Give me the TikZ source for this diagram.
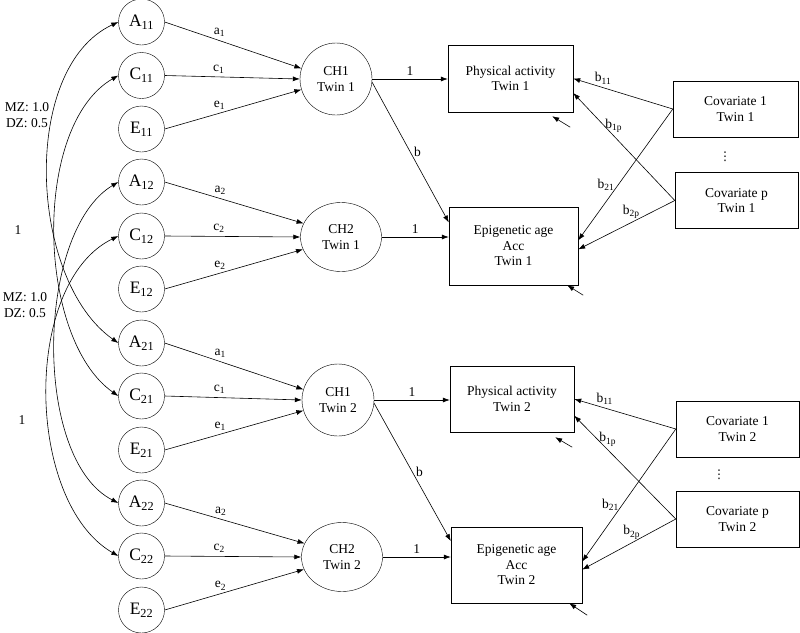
\documentclass[tikz,border=0pt]{standalone}
\usepackage{amsmath}
\usepackage{amssymb}
\usepackage{fontspec}
\setmainfont{Liberation Serif}
\newfontfamily\dotsfont{DejaVu Sans}
\usetikzlibrary{arrows.meta,shapes.geometric}

\begin{document}
\begin{tikzpicture}[x=1pt,y=1pt,
        every node/.style={font=\fontsize{13.5}{15.5}\selectfont},
        lat/.style={draw,circle,minimum size=46pt,inner sep=0pt,font=\fontsize{17.5}{20}\selectfont},
        chone/.style={draw,circle,minimum size=72pt,inner sep=0pt,align=center},
        chtwo/.style={draw,ellipse,minimum width=81pt,minimum height=69pt,inner sep=0pt,align=center},
        obs/.style={draw,rectangle,inner sep=0pt,align=center},
        arr/.style={-{Latex[length=7pt,width=5pt]},line width=0.6pt},
        dbl/.style={{Latex[length=7pt,width=5pt]}-{Latex[length=7pt,width=5pt]},line width=0.6pt}]
    \useasboundingbox (0,0) rectangle (800,-632);
    % ACE factors
    \node [lat] (a11) at (141.5,-22) {A\textsubscript{11}};
    \node [lat] (c11) at (141.5,-75.5) {C\textsubscript{11}};
    \node [lat] (e11) at (141.5,-129) {E\textsubscript{11}};
    \node [lat] (a12) at (141.5,-182) {A\textsubscript{12}};
    \node [lat] (c12) at (141.5,-236) {C\textsubscript{12}};
    \node [lat] (e12) at (141.5,-289) {E\textsubscript{12}};
    \node [lat] (a21) at (141.5,-343) {A\textsubscript{21}};
    \node [lat] (c21) at (141.5,-396) {C\textsubscript{21}};
    \node [lat] (e21) at (141.5,-450) {E\textsubscript{21}};
    \node [lat] (a22) at (141.5,-503) {A\textsubscript{22}};
    \node [lat] (c22) at (141.5,-556) {C\textsubscript{22}};
    \node [lat] (e22) at (141.5,-610) {E\textsubscript{22}};
    % latent CH
    \node [chone] (ch1t1) at (336,-79) {CH1\\Twin 1};
    \node [chtwo] (ch2t1) at (341,-237) {CH2\\Twin 1};
    \node [chone] (ch1t2) at (338,-400) {CH1\\Twin 2};
    \node [chtwo] (ch2t2) at (342,-557) {CH2\\Twin 2};
    % observed
    \node [obs,minimum width=125pt,minimum height=67pt] (pat1) at (510.5,-78.5) {Physical activity\\Twin 1};
    \node [obs,minimum width=129pt,minimum height=78pt] (eat1) at (513.5,-246) {Epigenetic age\\Acc\\Twin 1};
    \node [obs,minimum width=125pt,minimum height=56pt] (cov1t1) at (735.5,-109) {Covariate 1\\Twin 1};
    \node [obs,minimum width=123pt,minimum height=56pt] (covpt1) at (736.5,-200.5) {Covariate p\\Twin 1};
    \node [obs,minimum width=124pt,minimum height=66pt] (pat2) at (512,-399) {Physical activity\\Twin 2};
    \node [obs,minimum width=131pt,minimum height=76pt] (eat2) at (516.5,-565) {Epigenetic age\\Acc\\Twin 2};
    \node [obs,minimum width=123pt,minimum height=56pt] (cov1t2) at (737.5,-429) {Covariate 1\\Twin 2};
    \node [obs,minimum width=123pt,minimum height=56pt] (covpt2) at (737.5,-519) {Covariate p\\Twin 2};
    \node [font=\dotsfont\fontsize{12}{12}\selectfont] (dt1) at (725,-157) {⋮};
    \node [font=\dotsfont\fontsize{12}{12}\selectfont] (dt2) at (719,-475) {⋮};
    % twin correlations
    \draw [dbl] (a11.west) to [out=205,in=145,looseness=0.87] (a21.west);
    \draw [dbl] (c11.west) to [out=210,in=145,looseness=0.8] (c21.west);
    \draw [dbl] (a12.west) to [out=211,in=153,looseness=0.77] (a22.west);
    \draw [dbl] (c12.west) to [out=206,in=150,looseness=0.86] (c22.west);
    \node [align=center] (mz1) at (27,-115) {MZ: 1.0\\DZ: 0.5};
    \node (one1) at (18,-230) {1};
    \node [align=center] (mz2) at (25,-305) {MZ: 1.0\\DZ: 0.5};
    \node (one2) at (22,-420) {1};
    % paths twin 1
    \draw [arr] (a11.east) -- node [pos=0.4,above] {a\textsubscript{1}} (ch1t1.163);
    \draw [arr] (c11.east) -- node [pos=0.4,above] {c\textsubscript{1}} (ch1t1.west);
    \draw [arr] (e11.east) -- node [pos=0.4,above] {e\textsubscript{1}} (ch1t1.197);
    \draw [arr] (a12.east) -- node [pos=0.4,above] {a\textsubscript{2}} (ch2t1.160);
    \draw [arr] (c12.east) -- node [pos=0.4,above] {c\textsubscript{2}} (ch2t1.west);
    \draw [arr] (e12.east) -- node [pos=0.4,above] {e\textsubscript{2}} (ch2t1.198);
    \draw [arr] (ch1t1.east) -- node [above] {1} (ch1t1.east -| pat1.west);
    \draw [arr] (ch1t1.-5) -- node [right] {b} (eat1.160);
    \draw [arr] (ch2t1.east) -- node [above] {1} (ch2t1.east -| eat1.west);
    \draw [arr] (cov1t1.west) -- node [pos=0.7,above] {b\textsubscript{11}} (pat1.east);
    \draw [arr] (covpt1.west) -- node [pos=0.6,above] {b\textsubscript{1p}} (pat1.-13);
    \draw [arr] (cov1t1.west) -- node [pos=0.58,left] {b\textsubscript{21}} (eat1.5);
    \draw [arr] (covpt1.west) -- node [pos=0.45,above] {b\textsubscript{2p}} (eat1.-3);
    % paths twin 2
    \draw [arr] (a21.east) -- node [pos=0.4,above] {a\textsubscript{1}} (ch1t2.163);
    \draw [arr] (c21.east) -- node [pos=0.4,above] {c\textsubscript{1}} (ch1t2.west);
    \draw [arr] (e21.east) -- node [pos=0.4,above] {e\textsubscript{1}} (ch1t2.197);
    \draw [arr] (a22.east) -- node [pos=0.4,above] {a\textsubscript{2}} (ch2t2.160);
    \draw [arr] (c22.east) -- node [pos=0.4,above] {c\textsubscript{2}} (ch2t2.west);
    \draw [arr] (e22.east) -- node [pos=0.4,above] {e\textsubscript{2}} (ch2t2.198);
    \draw [arr] (ch1t2.east) -- node [above] {1} (ch1t2.east -| pat2.west);
    \draw [arr] (ch1t2.-5) -- node [right] {b} (eat2.160);
    \draw [arr] (ch2t2.east) -- node [above] {1} (ch2t2.east -| eat2.west);
    \draw [arr] (cov1t2.west) -- node [pos=0.7,above] {b\textsubscript{11}} (pat2.east);
    \draw [arr] (covpt2.west) -- node [pos=0.67,above] {b\textsubscript{1p}} (pat2.-15);
    \draw [arr] (cov1t2.west) -- node [pos=0.57,left] {b\textsubscript{21}} (eat2.3);
    \draw [arr] (covpt2.west) -- node [pos=0.47,above] {b\textsubscript{2p}} (eat2.-4);
    % residuals
    \coordinate (upat1) at ([shift={(-3,-15)}]pat1.south east);
    \coordinate (ueat1) at ([shift={(5,-10)}]eat1.south east);
    \coordinate (upat2) at ([shift={(-2,-15)}]pat2.south east);
    \coordinate (ueat2) at ([shift={(5,-12)}]eat2.south east);
    \draw [arr] (upat1) -- ([shift={(-21,-4)}]pat1.south east);
    \draw [arr] (ueat1) -- ([shift={(-11,0)}]eat1.south east);
    \draw [arr] (upat2) -- ([shift={(-19,-5)}]pat2.south east);
    \draw [arr] (ueat2) -- ([shift={(-13,0)}]eat2.south east);
\end{tikzpicture}
\end{document}
